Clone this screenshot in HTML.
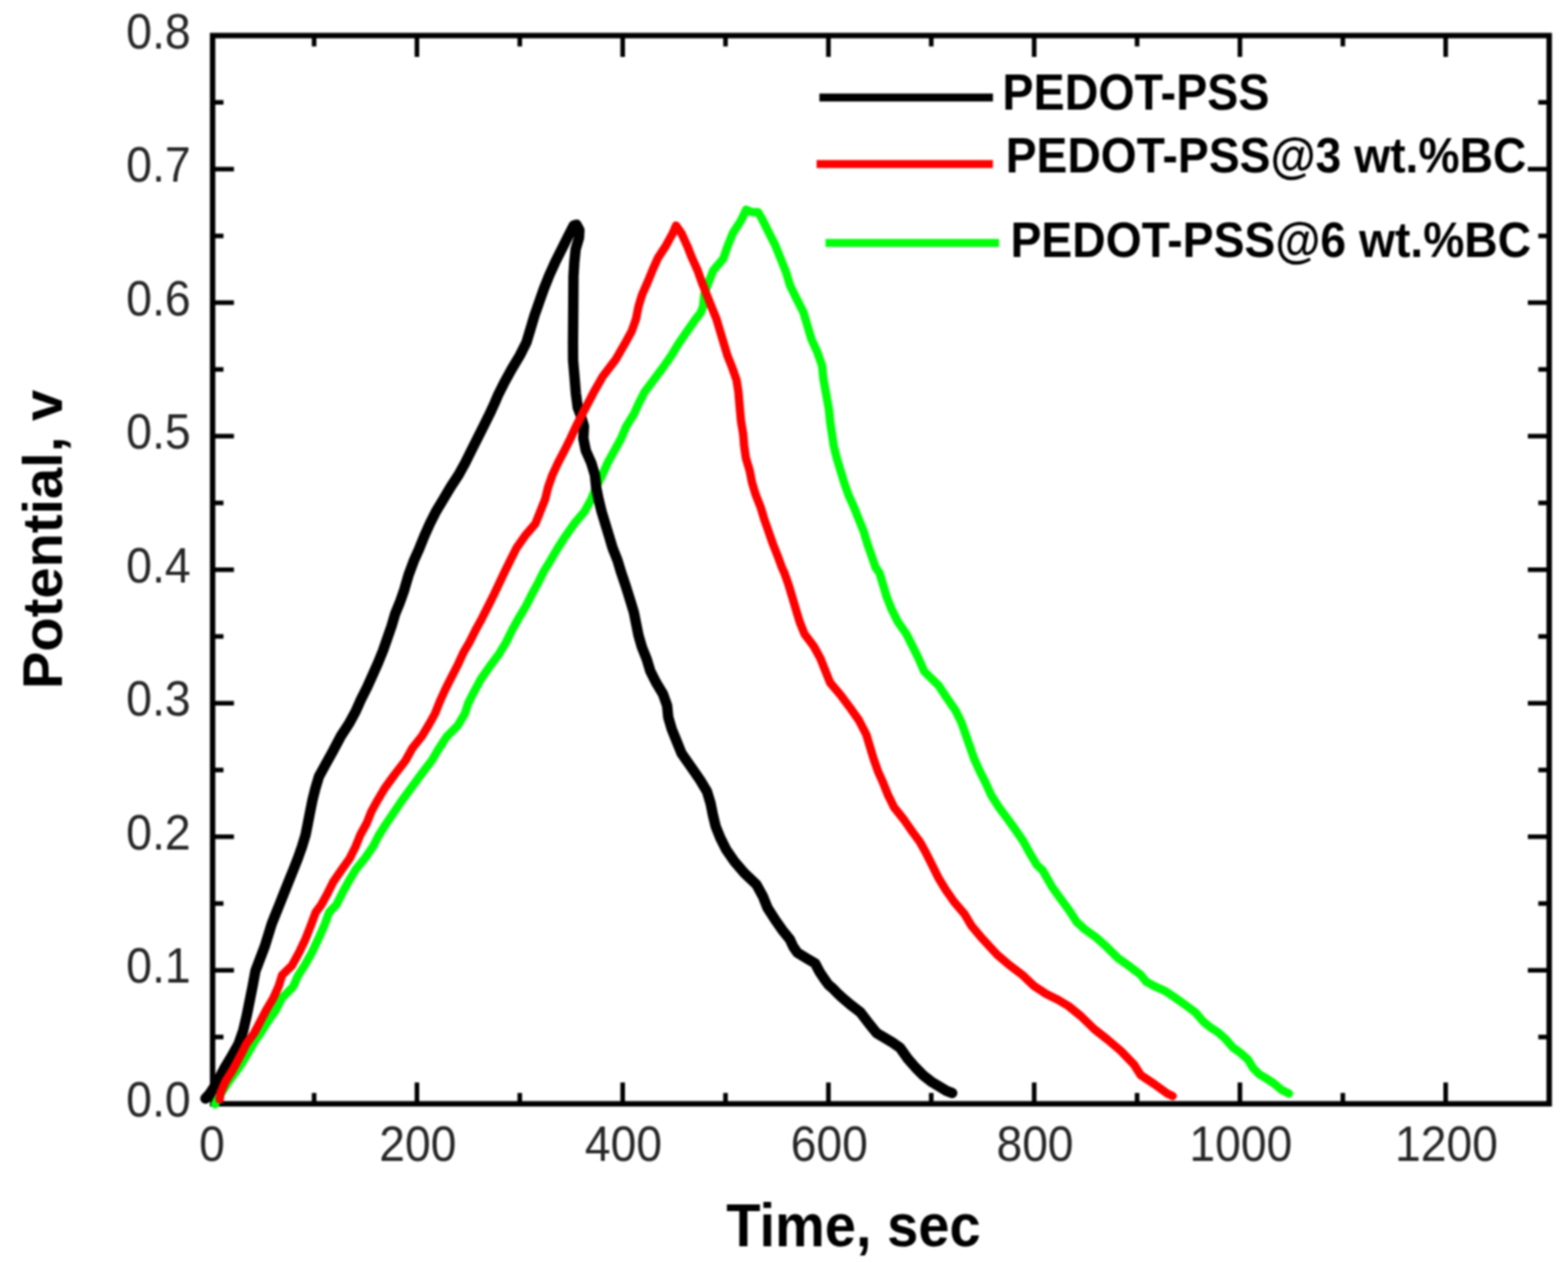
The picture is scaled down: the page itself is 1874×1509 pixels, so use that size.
<!DOCTYPE html>
<html><head><meta charset="utf-8"><title>Potential vs Time</title>
<style>
html,body{margin:0;padding:0;background:#fff;}
body{width:1874px;height:1509px;overflow:hidden;}
svg{display:block;}
#w{filter:blur(0.9px);width:1874px;height:1509px;}
</style></head>
<body>
<div id="w">
<svg width="1874" height="1509" viewBox="0 0 1874 1509">
<rect width="1874" height="1509" fill="#fff"/>
<g stroke="#000" stroke-width="5.5" stroke-linecap="butt">
<line x1="375.4" y1="1318.8" x2="375.4" y2="1305.8"/>
<line x1="375.4" y1="42.5" x2="375.4" y2="55.5"/>
<line x1="498.3" y1="1318.8" x2="498.3" y2="1293.3"/>
<line x1="498.3" y1="42.5" x2="498.3" y2="68.0"/>
<line x1="621.2" y1="1318.8" x2="621.2" y2="1305.8"/>
<line x1="621.2" y1="42.5" x2="621.2" y2="55.5"/>
<line x1="744.2" y1="1318.8" x2="744.2" y2="1293.3"/>
<line x1="744.2" y1="42.5" x2="744.2" y2="68.0"/>
<line x1="867.1" y1="1318.8" x2="867.1" y2="1305.8"/>
<line x1="867.1" y1="42.5" x2="867.1" y2="55.5"/>
<line x1="990.1" y1="1318.8" x2="990.1" y2="1293.3"/>
<line x1="990.1" y1="42.5" x2="990.1" y2="68.0"/>
<line x1="1113.0" y1="1318.8" x2="1113.0" y2="1305.8"/>
<line x1="1113.0" y1="42.5" x2="1113.0" y2="55.5"/>
<line x1="1236.0" y1="1318.8" x2="1236.0" y2="1293.3"/>
<line x1="1236.0" y1="42.5" x2="1236.0" y2="68.0"/>
<line x1="1359.0" y1="1318.8" x2="1359.0" y2="1305.8"/>
<line x1="1359.0" y1="42.5" x2="1359.0" y2="55.5"/>
<line x1="1481.9" y1="1318.8" x2="1481.9" y2="1293.3"/>
<line x1="1481.9" y1="42.5" x2="1481.9" y2="68.0"/>
<line x1="1604.9" y1="1318.8" x2="1604.9" y2="1305.8"/>
<line x1="1604.9" y1="42.5" x2="1604.9" y2="55.5"/>
<line x1="1727.8" y1="1318.8" x2="1727.8" y2="1293.3"/>
<line x1="1727.8" y1="42.5" x2="1727.8" y2="68.0"/>
<line x1="254.1" y1="1239.0" x2="267.1" y2="1239.0"/>
<line x1="1851.5" y1="1239.0" x2="1838.5" y2="1239.0"/>
<line x1="254.1" y1="1159.3" x2="279.6" y2="1159.3"/>
<line x1="1851.5" y1="1159.3" x2="1826.0" y2="1159.3"/>
<line x1="254.1" y1="1079.5" x2="267.1" y2="1079.5"/>
<line x1="1851.5" y1="1079.5" x2="1838.5" y2="1079.5"/>
<line x1="254.1" y1="999.7" x2="279.6" y2="999.7"/>
<line x1="1851.5" y1="999.7" x2="1826.0" y2="999.7"/>
<line x1="254.1" y1="920.0" x2="267.1" y2="920.0"/>
<line x1="1851.5" y1="920.0" x2="1838.5" y2="920.0"/>
<line x1="254.1" y1="840.2" x2="279.6" y2="840.2"/>
<line x1="1851.5" y1="840.2" x2="1826.0" y2="840.2"/>
<line x1="254.1" y1="760.4" x2="267.1" y2="760.4"/>
<line x1="1851.5" y1="760.4" x2="1838.5" y2="760.4"/>
<line x1="254.1" y1="680.7" x2="279.6" y2="680.7"/>
<line x1="1851.5" y1="680.7" x2="1826.0" y2="680.7"/>
<line x1="254.1" y1="600.9" x2="267.1" y2="600.9"/>
<line x1="1851.5" y1="600.9" x2="1838.5" y2="600.9"/>
<line x1="254.1" y1="521.1" x2="279.6" y2="521.1"/>
<line x1="1851.5" y1="521.1" x2="1826.0" y2="521.1"/>
<line x1="254.1" y1="441.4" x2="267.1" y2="441.4"/>
<line x1="1851.5" y1="441.4" x2="1838.5" y2="441.4"/>
<line x1="254.1" y1="361.6" x2="279.6" y2="361.6"/>
<line x1="1851.5" y1="361.6" x2="1826.0" y2="361.6"/>
<line x1="254.1" y1="281.9" x2="267.1" y2="281.9"/>
<line x1="1851.5" y1="281.9" x2="1838.5" y2="281.9"/>
<line x1="254.1" y1="202.1" x2="279.6" y2="202.1"/>
<line x1="1851.5" y1="202.1" x2="1826.0" y2="202.1"/>
<line x1="254.1" y1="122.3" x2="267.1" y2="122.3"/>
<line x1="1851.5" y1="122.3" x2="1838.5" y2="122.3"/>
</g>
<rect x="254.1" y="42.5" width="1597.4" height="1276.3" fill="none" stroke="#000" stroke-width="6.5"/>
<g font-family="'Liberation Sans', Arial, sans-serif" font-size="57" fill="#262626">
<text transform="translate(228,1333.8) scale(0.975,1.035)" text-anchor="end">0.0</text>
<text transform="translate(228,1174.3) scale(0.975,1.035)" text-anchor="end">0.1</text>
<text transform="translate(228,1014.7) scale(0.975,1.035)" text-anchor="end">0.2</text>
<text transform="translate(228,855.2) scale(0.975,1.035)" text-anchor="end">0.3</text>
<text transform="translate(228,695.7) scale(0.975,1.035)" text-anchor="end">0.4</text>
<text transform="translate(228,536.1) scale(0.975,1.035)" text-anchor="end">0.5</text>
<text transform="translate(228,376.6) scale(0.975,1.035)" text-anchor="end">0.6</text>
<text transform="translate(228,217.1) scale(0.975,1.035)" text-anchor="end">0.7</text>
<text transform="translate(228,57.6) scale(0.975,1.035)" text-anchor="end">0.8</text>
<text transform="translate(253.4,1387) scale(0.97,1.03)" text-anchor="middle">0</text>
<text transform="translate(499.3,1387) scale(0.97,1.03)" text-anchor="middle">200</text>
<text transform="translate(745.2,1387) scale(0.97,1.03)" text-anchor="middle">400</text>
<text transform="translate(991.1,1387) scale(0.97,1.03)" text-anchor="middle">600</text>
<text transform="translate(1237.0,1387) scale(0.97,1.03)" text-anchor="middle">800</text>
<text transform="translate(1482.9,1387) scale(0.97,1.03)" text-anchor="middle">1000</text>
<text transform="translate(1728.8,1387) scale(0.97,1.03)" text-anchor="middle">1200</text>
</g>
<g font-family="'Liberation Sans', Arial, sans-serif" font-weight="bold" fill="#000">
<text transform="translate(1020,1489) scale(1,1.08)" font-size="67" text-anchor="middle">Time, sec</text>
<text transform="translate(74,644.5) rotate(-90)" font-size="67" text-anchor="middle">Potential, v</text>
<text transform="translate(1198,130.5) scale(1,1.085)" font-size="55.8">PEDOT-PSS</text>
<text transform="translate(1201.9,205.7) scale(1,1.075)" font-size="55.3">PEDOT-PSS@3 wt.%BC</text>
<text transform="translate(1207.7,307.1) scale(1,1.06)" font-size="55.3">PEDOT-PSS@6 wt.%BC</text>
</g>
<g fill="none" stroke-linejoin="round" stroke-linecap="round">
<line x1="979.3" y1="116.6" x2="1186.7" y2="116.6" stroke="#000" stroke-width="9.5" stroke-linecap="butt"/>
<line x1="976" y1="196.1" x2="1186.7" y2="196.1" stroke="#ff0000" stroke-width="9.5" stroke-linecap="butt"/>
<line x1="986.6" y1="290.2" x2="1194" y2="290.2" stroke="#00ff0a" stroke-width="9.5" stroke-linecap="butt"/>
<polyline points="257.0,1319.4 262.0,1310.0 266.8,1302.6 273.1,1292.7 284.8,1276.8 294.9,1260.9 303.9,1245.0 311.2,1234.6 320.0,1220.7 329.8,1206.7 336.7,1192.8 350.3,1178.9 356.0,1166.0 364.0,1153.6 373.0,1137.7 380.4,1121.8 387.6,1105.9 393.4,1090.0 402.1,1081.0 409.0,1067.1 416.7,1053.1 425.0,1039.2 436.2,1025.3 445.9,1011.4 452.3,998.7 461.0,985.0 467.8,975.0 480.0,957.0 492.5,940.0 505.0,923.0 516.0,908.7 523.5,896.0 534.0,880.0 547.0,867.0 555.6,852.6 559.6,840.3 566.9,825.8 574.9,811.2 585.1,796.6 596.0,782.0 604.8,767.5 612.0,752.9 620.1,738.3 628.8,723.7 636.1,709.2 643.0,696.6 650.3,682.0 658.0,669.5 666.5,654.9 676.0,640.3 686.2,625.8 698.6,611.2 706.6,596.6 712.5,582.0 719.8,567.5 726.3,552.9 734.3,538.3 742.4,523.7 748.5,509.3 757.7,494.6 763.6,481.5 770.3,468.6 781.2,454.1 792.1,439.5 802.3,424.9 811.1,410.3 821.3,395.7 831.5,381.2 837.3,373.9 840.2,366.6 841.7,352.0 846.8,337.4 852.6,322.9 864.5,309.0 869.8,293.6 875.9,278.5 885.8,263.2 891.8,250.5 898.8,253.5 906.0,253.5 910.9,261.8 918.8,277.7 926.8,293.6 933.2,309.5 939.5,325.4 944.3,341.3 952.2,357.2 960.2,373.1 965.0,389.0 969.7,405.0 976.9,420.9 982.5,436.8 984.1,452.7 986.5,466.0 990.7,489.2 992.1,503.7 994.3,518.3 996.5,532.9 1000.1,547.5 1004.5,562.0 1008.9,576.6 1014.0,591.2 1020.6,605.8 1026.4,620.3 1032.2,634.9 1036.6,649.5 1041.7,664.1 1046.5,678.0 1051.2,684.6 1055.6,699.2 1059.9,713.7 1065.8,728.3 1073.1,742.9 1083.3,757.5 1090.6,772.0 1097.8,786.6 1104.5,802.0 1110.5,808.0 1122.0,819.2 1131.5,833.7 1141.7,848.3 1149.0,862.9 1154.1,877.5 1159.2,892.0 1164.3,906.6 1170.9,921.2 1178.2,935.8 1184.7,950.3 1194.2,964.9 1205.1,979.5 1214.0,992.0 1222.7,1004.6 1230.7,1019.2 1239.4,1033.7 1246.2,1040.0 1257.5,1059.9 1267.1,1073.1 1277.0,1086.4 1286.8,1101.5 1296.4,1110.2 1309.7,1119.8 1322.9,1131.6 1336.3,1144.9 1349.5,1154.2 1362.8,1164.2 1370.0,1173.0 1380.0,1178.4 1391.9,1183.7 1403.9,1191.7 1417.1,1201.0 1428.9,1209.7 1437.9,1220.4 1446.8,1227.6 1455.8,1233.4 1464.7,1241.4 1473.7,1251.7 1482.6,1258.0 1491.6,1266.0 1497.8,1276.3 1505.0,1283.5 1513.9,1288.8 1522.9,1294.7 1531.8,1302.3 1540.5,1306.5" stroke="#00ff0a" stroke-width="10"/>
<polyline points="245.5,1312.5 250.5,1307.0 256.5,1298.0 259.6,1292.7 268.0,1276.8 277.5,1260.9 285.0,1247.5 290.6,1231.6 294.8,1213.7 298.4,1195.8 302.0,1177.9 305.3,1160.0 316.5,1130.5 324.7,1104.0 328.3,1094.9 333.9,1081.0 339.4,1067.1 345.0,1053.1 350.6,1039.2 356.1,1025.3 361.0,1011.4 365.2,997.5 368.0,983.5 370.7,969.6 373.5,955.7 377.0,941.8 381.2,927.8 388.8,913.9 397.6,898.0 407.4,879.5 416.9,864.9 424.9,850.3 431.4,835.8 438.7,821.2 445.3,806.6 451.8,792.0 457.7,777.5 462.8,762.9 467.9,748.3 472.2,733.7 478.1,719.2 483.2,704.6 488.3,687.0 494.8,669.5 501.3,654.9 507.2,640.3 513.7,625.8 521.0,611.2 529.8,596.6 538.5,582.0 548.0,567.5 556.0,552.9 563.3,538.3 570.6,523.7 577.9,509.2 585.2,494.6 591.0,482.0 595.0,472.6 602.9,456.7 611.7,440.8 621.2,424.9 629.2,409.0 634.0,393.1 638.7,377.2 644.3,361.3 649.9,345.4 656.2,329.5 663.4,313.6 671.3,297.7 679.3,281.8 685.6,269.5 689.0,268.5 692.5,275.0 692.0,284.0 688.0,297.7 686.4,313.6 685.4,330.0 685.2,360.0 684.8,410.0 684.9,430.0 686.6,449.8 688.2,469.6 690.5,487.0 693.5,494.6 697.9,509.2 697.2,523.7 700.1,538.3 706.6,552.9 711.0,567.5 712.5,582.0 715.4,596.6 719.0,611.2 723.4,625.8 727.8,640.3 732.2,654.9 738.0,669.5 742.4,684.1 747.8,700.0 753.4,717.8 757.6,731.8 760.4,745.7 763.2,759.6 767.3,773.5 772.9,787.5 777.1,801.4 784.0,815.3 792.4,829.2 797.3,843.1 798.7,857.1 802.8,871.0 808.4,884.9 814.5,900.0 826.9,917.8 836.6,931.8 845.0,945.7 849.2,959.6 852.0,973.5 855.4,987.5 861.0,1001.4 868.0,1015.3 877.7,1029.2 889.5,1043.1 904.2,1057.1 911.8,1071.0 917.4,1084.9 926.8,1099.5 935.5,1111.8 944.0,1122.4 948.0,1131.0 953.0,1138.3 963.6,1144.7 974.2,1151.0 979.5,1161.1 984.8,1169.1 990.1,1176.5 995.4,1181.0 1000.7,1186.5 1006.0,1191.5 1016.6,1200.5 1028.3,1209.5 1038.6,1223.0 1047.8,1234.3 1057.1,1239.8 1066.4,1245.4 1075.7,1251.9 1084.9,1264.9 1094.2,1275.5 1103.5,1284.8 1112.8,1292.2 1122.0,1297.8 1131.3,1303.4 1138.0,1305.8" stroke="#000" stroke-width="12.4"/>
<polyline points="262.5,1313.5 263.5,1306.0 269.2,1292.7 279.0,1276.8 287.5,1260.9 294.5,1247.0 303.6,1234.6 311.0,1220.7 318.2,1206.7 326.5,1192.8 332.8,1178.9 337.2,1165.0 348.9,1153.6 357.6,1137.7 365.1,1121.8 371.4,1105.9 377.3,1090.0 384.0,1081.0 391.6,1067.1 398.6,1053.1 408.3,1039.2 418.1,1025.3 425.0,1011.4 430.6,997.5 438.3,983.5 443.8,969.6 451.5,955.7 459.8,941.8 472.0,925.0 484.6,908.7 492.7,894.1 504.3,879.5 513.1,864.9 519.9,852.6 525.7,838.0 532.3,823.5 539.6,808.9 547.2,794.3 553.8,779.8 561.0,767.5 568.3,752.9 576.3,738.3 583.6,723.7 590.9,709.2 596.8,696.6 602.7,684.1 609.9,669.5 617.2,654.9 627.4,640.3 639.8,625.8 645.7,611.2 651.5,596.6 655.1,582.0 660.2,567.5 667.0,552.9 674.6,538.3 681.9,523.7 688.5,509.3 697.4,492.0 703.7,480.0 709.1,469.6 720.4,449.8 735.6,429.9 747.0,410.2 755.0,395.7 760.1,381.2 763.0,366.6 767.4,352.0 773.9,337.4 779.8,322.9 786.3,308.3 795.8,293.7 803.8,279.2 808.0,269.5 814.7,279.2 821.3,293.7 827.1,308.3 833.7,322.9 838.8,337.4 844.6,352.0 850.4,366.6 856.3,381.2 860.6,395.7 865.0,410.3 869.4,424.9 875.2,439.5 880.3,454.1 882.5,468.0 884.3,489.2 885.7,503.7 888.2,518.3 889.4,532.9 891.5,547.5 895.9,562.0 898.8,576.6 903.2,591.2 909.0,605.8 913.4,620.3 918.5,634.9 923.6,649.5 929.4,664.1 934.5,678.0 937.5,684.6 942.6,699.2 947.0,713.7 951.3,728.3 955.7,742.9 961.5,757.5 972.5,772.0 980.5,786.6 986.3,801.2 992.2,815.8 1004.5,830.3 1015.5,844.9 1026.5,860.5 1035.3,877.5 1039.7,892.0 1044.1,906.6 1049.2,921.2 1055.7,935.8 1061.5,950.3 1068.8,964.9 1080.5,979.5 1090.7,994.1 1099.5,1006.0 1106.8,1019.2 1114.1,1033.7 1121.3,1048.3 1130.1,1062.9 1140.3,1077.5 1152.7,1092.0 1161.4,1106.6 1173.8,1121.2 1192.0,1140.9 1206.6,1153.3 1221.2,1164.2 1235.8,1178.0 1250.3,1187.5 1264.9,1194.8 1277.0,1202.0 1291.8,1214.0 1307.7,1229.5 1323.6,1242.0 1339.5,1255.5 1355.4,1272.0 1363.3,1284.5 1379.2,1295.0 1395.1,1306.5 1401.5,1309.5" stroke="#ff0000" stroke-width="10"/>
</g>
</svg>
</div>
</body></html>
